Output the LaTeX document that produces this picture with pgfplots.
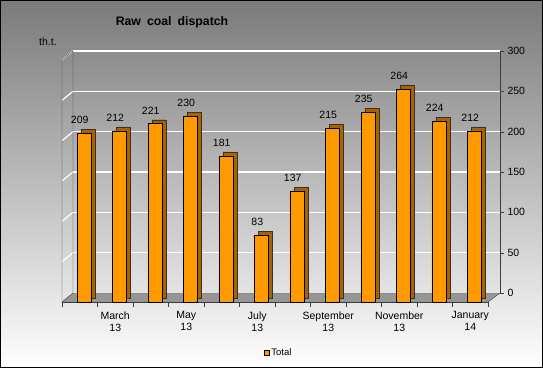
\documentclass[border=0pt]{standalone}
\usepackage{pgfplots}
\pgfplotsset{compat=1.18}
\usepackage{pgfplotstable}
\usepackage{fontspec}
\setmainfont{Liberation Sans}
\definecolor{barorange}{RGB}{255,153,0}
\definecolor{barside}{RGB}{168,98,0}
\definecolor{bgtop}{RGB}{122,122,122}
\definecolor{floorgray}{RGB}{150,150,150}
\definecolor{walline}{RGB}{60,60,60}

\pgfplotstableread{
x v
0 209
1 212
2 221
3 230
4 181
5 83
6 137
7 215
8 235
9 264
10 224
11 212
}\coal

\begin{document}
\begin{tikzpicture}
\shade[top color=bgtop, bottom color=white] (0pt,0pt) rectangle (543pt,368pt);

% back wall with right axis and grid
\begin{axis}[at={(73pt,75pt)}, anchor=south west, scale only axis,
  width=427pt, height=242pt,
  xmin=0, xmax=1, ymin=0, ymax=300, ytick={0,50,...,300},
  hide x axis, axis y line*=right,
  ymajorgrids, grid style={white, line width=1.2pt},
  y axis line style={walline}, ytick style={walline},
  tick align=outside, major tick length=4pt,
  yticklabel style={font=\fontsize{10.5}{12}\selectfont, text=black},
  /pgf/number format/assume math mode=true,
]
\addplot[draw=none] coordinates {(0,0)};
\end{axis}

% floor and left wall
\fill[floorgray] (62pt,66pt)--(488pt,66pt)--(500pt,75pt)--(73pt,75pt)--cycle;
\draw[walline] (62pt,66pt)--(73pt,75pt)--(500pt,75pt)--(488pt,66pt);
\foreach \k in {1,...,6}{
  \draw[white, line width=1.2pt] (62pt,{66pt+\k*40.333pt})--(73pt,{75pt+\k*40.333pt});
}
\draw[walline] (62pt,66pt)--(62pt,308pt)--(73pt,317pt)--(73pt,75pt);

% front: bars
\begin{axis}[at={(62pt,66pt)}, anchor=south west, scale only axis,
  width=426pt, height=242pt,
  xmin=-0.5, xmax=11.5, ymin=0, ymax=300,
  hide y axis, axis x line*=bottom,
  x axis line style={walline},
  xtick={1,3,...,11},
  xticklabels={{March\\13},{May\\13},{July\\13},{September\\13},{November\\13},{January\\14}},
  minor xtick={-0.5,0.5,...,11.5},
  major tick length=0pt, minor tick length=5pt, tick align=outside,
  xtick style={walline},
  xticklabel style={align=center, font=\fontsize{10.5}{12}\selectfont, yshift=-6pt, text=black},
  legend style={at={(axis description cs:0.509,-0.209)}, anchor=center, draw=none, fill=none,
    font=\fontsize{9.5}{11}\selectfont, inner sep=0pt},
  legend image code/.code={\draw[fill=barorange, draw=black] (0pt,-2.3pt) rectangle (4.6pt,2.3pt);},
  /pgf/number format/assume math mode=true,
  clip=false,
]
\addplot[ybar, bar width=14pt, bar shift=8pt, fill=barside, draw=black!80, line width=0.4pt, yshift=4pt, forget plot]
  table[x=x, y=v]{\coal};
\addplot[ybar, bar width=14pt, bar shift=4pt, fill=barorange, draw=black, line width=0.5pt,
  nodes near coords,
  every node near coord/.append style={font=\fontsize{10.5}{12}\selectfont, text=black, yshift=6pt}]
  table[x=x, y=v]{\coal};
\addlegendentry{Total}
\end{axis}

\node[anchor=base, font=\bfseries\fontsize{12.3}{14}\selectfont] at (172pt,343pt) {\spaceskip=6pt Raw coal dispatch};
\node[anchor=base west, font=\fontsize{10.5}{12}\selectfont, inner sep=0pt] at (39pt,323pt) {th.t.};

\draw[black, line width=1pt] (0.5pt,0.5pt) rectangle (542.5pt,367.5pt);
\pgfresetboundingbox
\path (0pt,0pt) rectangle (543pt,368pt);
\end{tikzpicture}
\end{document}
